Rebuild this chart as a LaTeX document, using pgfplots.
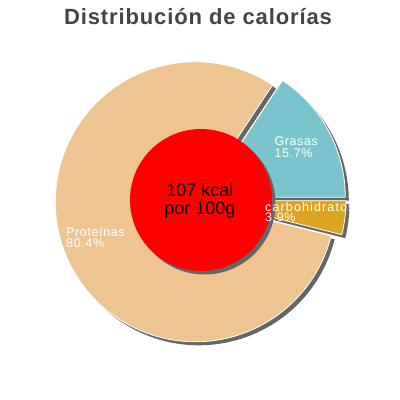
\documentclass[border=0pt]{standalone}
\usepackage{fontspec}
\setmainfont{Liberation Sans}
\newfontfamily\lblfont[LetterSpace=5]{Liberation Sans}
\newfontfamily\widelblfont[LetterSpace=9]{Liberation Sans}
\newfontfamily\titlefont[LetterSpace=4]{Liberation Sans}
\usepackage{pgfplots}
\usepackage{pgfplotstable}
\pgfplotsset{compat=1.18}

\definecolor{grasas}{HTML}{7AC5CD}
\definecolor{carbs}{HTML}{DAA520}
\definecolor{prot}{HTML}{EEC591}
\definecolor{shadowc}{HTML}{666666}
\definecolor{titlec}{HTML}{444444}

% share of calories, in percent
\pgfplotstableread{
label value explode
carbohidratos 3.9 6
Grasas 15.7 6
Proteínas 80.4 5
}\caltable

\pgfplotstablegetelem{0}{value}\of\caltable\let\vC\pgfplotsretval
\pgfplotstablegetelem{1}{value}\of\caltable\let\vG\pgfplotsretval
\pgfplotstablegetelem{2}{value}\of\caltable\let\vP\pgfplotsretval
\pgfplotstablegetelem{0}{explode}\of\caltable\let\eC\pgfplotsretval
\pgfplotstablegetelem{1}{explode}\of\caltable\let\eG\pgfplotsretval
\pgfplotstablegetelem{2}{explode}\of\caltable\let\eP\pgfplotsretval
\pgfmathsetmacro\aS{-3.6*\vC}
\pgfmathsetmacro\aC{\aS+3.6*\vC}
\pgfmathsetmacro\aG{\aC+3.6*\vG}
\pgfmathsetmacro\aP{\aG+3.6*\vP}

% one slice: start angle, end angle, explode (px), colour
\newcommand\shadowslice[3]{%
  \fill[shadowc] ([shift={({(#1+#2)/2}:#3bp)}]axis cs:203.5,196.5)
    -- ++(#1:140bp) arc[start angle=#1, end angle=#2, radius=140bp] -- cycle;}
\newcommand\pieslice[4]{%
  \filldraw[fill=#4, draw=white, line width=0.8bp]
    ([shift={({(#1+#2)/2}:#3bp)}]axis cs:200,200)
    -- ++(#1:140bp) arc[start angle=#1, end angle=#2, radius=140bp] -- cycle;}

\begin{document}
\begin{tikzpicture}
  \begin{axis}[
    scale only axis,
    width=400bp, height=400bp,
    xmin=0, xmax=400, ymin=0, ymax=400,
    hide axis,
    clip=false,
  ]
  % --- shadows ---
  \shadowslice{\aS}{\aC}{\eC}
  \shadowslice{\aC}{\aG}{\eG}
  \shadowslice{\aG}{\aP}{\eP}
  % --- slices ---
  \pieslice{\aS}{\aC}{\eC}{carbs}
  \pieslice{\aC}{\aG}{\eG}{grasas}
  \pieslice{\aG}{\aP}{\eP}{prot}
  % --- centre disc ---
  \fill[shadowc] (axis cs:204.5,196.5) circle[radius=71bp];
  \fill[red] (axis cs:201,200) circle[radius=71bp];
  \node[anchor=base, inner sep=0pt, font=\fontsize{18bp}{20bp}\selectfont]
    at (axis cs:200,204) {107 kcal};
  \node[anchor=base, inner sep=0pt, font=\fontsize{18bp}{20bp}\selectfont]
    at (axis cs:200,185.7) {por 100g};
  % --- labels ---
  \begin{scope}[every node/.style={anchor=base west, inner sep=0pt,
      text=white, font=\lblfont\fontsize{12.5bp}{14bp}\selectfont}]
  \node at (axis cs:274.3,254.3) {Grasas};
  \node at (axis cs:274.3,242.7) {15.7\%};
  \node[font=\widelblfont\fontsize{12.5bp}{14bp}\selectfont]
    at (axis cs:265,189) {carbohidratos};
  \node at (axis cs:265,178.3) {3.9\%};
  \node at (axis cs:66,163.3) {Proteínas};
  \node at (axis cs:66,152.3) {80.4\%};
  \end{scope}
  % --- title ---
  \node[anchor=base, inner sep=0pt, text=titlec,
    font=\titlefont\bfseries\fontsize{22bp}{24bp}\selectfont]
    at (axis cs:198,376) {Distribución de calorías};
  \coordinate (bbA) at (axis cs:0,0);
  \coordinate (bbB) at (axis cs:400,400);
  \end{axis}
  \pgfresetboundingbox
  \path[use as bounding box] (bbA) rectangle (bbB);
\end{tikzpicture}
\end{document}
